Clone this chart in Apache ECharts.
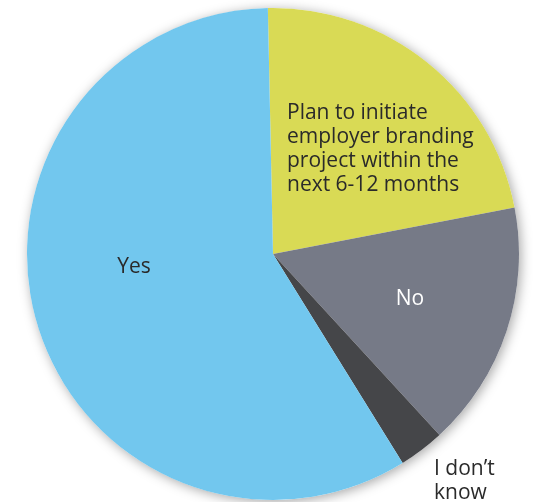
<!DOCTYPE html>
<html>
<head>
<meta charset="utf-8">
<script src="https://cdn.jsdelivr.net/npm/echarts@6/dist/echarts.min.js"></script>
<style>
  html, body { margin: 0; padding: 0; background: #ffffff; }
  #chart { width: 533px; height: 502px; }
</style>
</head>
<body>
<div id="chart"></div>
<script>
// Survey answers, clockwise from 12 o'clock
const categories = [
  'Plan to initiate\nemployer branding\nproject within the\nnext 6-12 months',
  'No',
  'I don\u2019t\nknow',
  'Yes'
];
const shares = [22.3, 16.2, 3.0, 58.5];
const sliceColors = ['#d9da55', '#767a87', '#454649', '#72c7ee'];
const labelColors = ['#2a2a2a', '#ffffff', '#2a2a2a', '#2a2a2a'];

// Where each slice's caption sits (left/top anchor or centre)
const labelSpots = [
  { x: 287, y: 101, align: 'left', verticalAlign: 'top' },
  { x: 410, y: 299, align: 'center', verticalAlign: 'middle' },
  { x: 434, y: 457, align: 'left', verticalAlign: 'top' },
  { x: 134, y: 267, align: 'center', verticalAlign: 'middle' }
];

const pieCenter = [273, 254];
const pieRadius = 246;

const chart = echarts.init(document.getElementById('chart'), null, { renderer: 'canvas' });

chart.setOption({
  animation: false,
  backgroundColor: '#ffffff',
  series: [
    {
      // soft drop shadow behind the whole disc
      type: 'pie',
      silent: true,
      center: pieCenter,
      radius: pieRadius,
      label: { show: false },
      labelLine: { show: false },
      itemStyle: {
        color: '#ffffff',
        shadowBlur: 12,
        shadowColor: 'rgba(0,0,0,0.35)',
        shadowOffsetX: 2,
        shadowOffsetY: 2
      },
      data: [{ value: 1 }],
      z: 1
    },
    {
      type: 'pie',
      center: pieCenter,
      radius: pieRadius,
      startAngle: 91.2,
      clockwise: true,
      z: 2,
      itemStyle: { borderWidth: 0 },
      label: {
        show: true,
        position: 'inside',
        fontFamily: '"Open Sans", "Noto Sans", sans-serif',
        fontSize: 21,
        lineHeight: 24,
        formatter: p => p.name
      },
      labelLine: { show: false },
      labelLayout: params => labelSpots[params.dataIndex],
      data: categories.map((name, i) => ({
        name: name,
        value: shares[i],
        itemStyle: { color: sliceColors[i] },
        label: { color: labelColors[i] }
      }))
    }
  ]
});
</script>
</body>
</html>
